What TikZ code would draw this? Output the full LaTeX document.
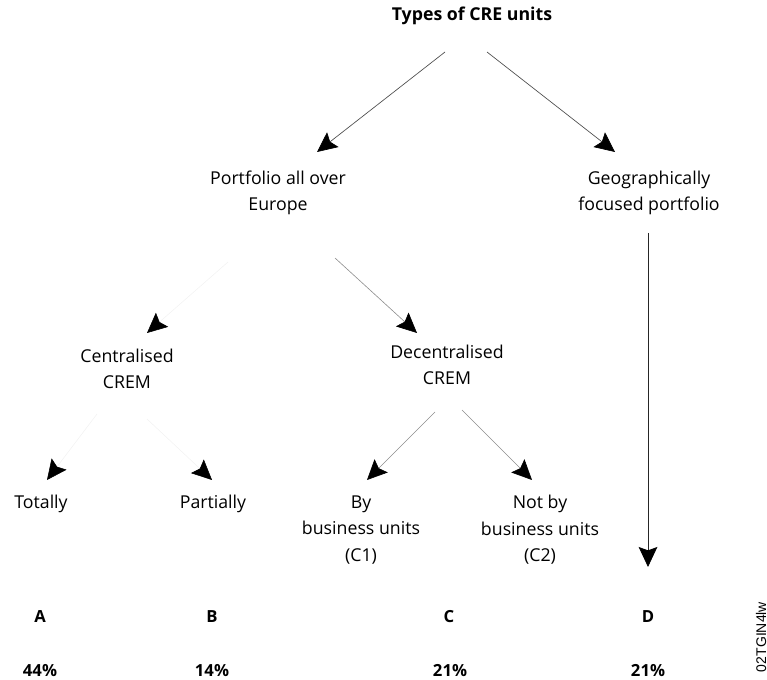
\documentclass[tikz,border=0pt]{standalone}
\usepackage{fontspec}
\setmainfont{Open Sans}
\newfontfamily\codefont{Liberation Sans}
\usetikzlibrary{arrows.meta,calc}
\begin{document}
\begin{tikzpicture}[x=0.75pt,y=-0.75pt,
  lbl/.style={align=center,inner sep=0pt,font=\fontsize{13.3}{19.8}\selectfont},
  ttl/.style={inner sep=0pt,font=\fontsize{13.3}{16}\selectfont\bfseries},
  cls/.style={inner sep=0pt,font=\fontsize{12.5}{14}\selectfont\bfseries},
  tip/.style={-{Stealth[length=15pt,width=14pt,inset=2.5pt,black]}},
  dark/.style={tip,draw=black!70,line width=0.5pt},
  pale/.style={tip,draw=black!45,line width=0.45pt},
  ghost/.style={tip,draw=black!5,line width=0.4pt},
  solid/.style={tip,draw=black!85,line width=0.6pt}]
\useasboundingbox (0,0) rectangle (767,680);

% hierarchy of labels
\node[ttl] (title) at (472,16) {Types of CRE units};
\node[lbl] (port) at (278,193) {Portfolio all over\\Europe};
\node[lbl] (geo) at (649,193) {Geographically\\focused portfolio};
\node[lbl] (cent) at (127,369) {Centralised\\CREM};
\node[lbl] (decent) at (447,365) {Decentralised\\CREM};
\node[lbl] (tot) at (41,504) {Totally};
\node[lbl] (part) at (213,504) {Partially};
\node[lbl] (by) at (361,530) {By\\business units\\(C1)};
\node[lbl] (notby) at (540,530) {Not by\\business units\\(C2)};

% unit classes and shares
\node[cls] (A) at (40,617) {A};
\node[cls] (B) at (212,617) {B};
\node[cls] (C) at (449,617) {C};
\node[cls] (D) at (648,617) {D};
\node[cls] (pA) at (40,671) {44\%};
\node[cls] (pB) at (212,671) {14\%};
\node[cls] (pC) at (450,671) {21\%};
\node[cls] (pD) at (648,671) {21\%};

\node[inner sep=0pt,rotate=90,font=\codefont\fontsize{10.5}{12}\selectfont] (code) at (761,637) {02TGIN4lw};

% connectors
\draw[dark] ($(title)+(-27,36)$) -- ($(port)+(39,-41)$);
\draw[dark] ($(title)+(15,36)$) -- ($(geo)+(-34,-41)$);
\draw[solid] ($(geo)+(-1,40)$) -- ($(D)+(0,-50)$);
\draw[ghost] ($(port)+(-50,69)$) -- ($(cent)+(20,-36)$);
\draw[pale] ($(port)+(57,65)$) -- ($(decent)+(-30,-32)$);
\draw[ghost] ($(cent)+(-30,45)$) -- ($(tot)+(6,-24)$);
\draw[ghost] ($(cent)+(20,50)$) -- ($(part)+(-1,-24)$);
\draw[pale] ($(decent)+(-12,47)$) -- ($(by)+(6,-50)$);
\draw[pale] ($(decent)+(15,45)$) -- ($(notby)+(-8,-50)$);
\end{tikzpicture}
\end{document}
